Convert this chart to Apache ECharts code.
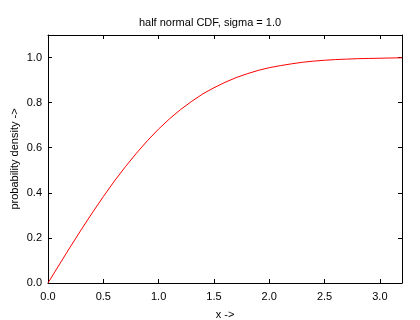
<!DOCTYPE html>
<html>
<head>
<meta charset="utf-8">
<script src="https://cdn.jsdelivr.net/npm/echarts@6/dist/echarts.min.js"></script>
<style>
  html, body { margin: 0; padding: 0; background: #fff; }
  #chart { width: 420px; height: 320px; }
</style>
</head>
<body>
<div id="chart"></div>
<script>
// values, one every 0.1 on x
var xValues = [0.0, 0.1, 0.2, 0.3, 0.4, 0.5, 0.6, 0.7, 0.8, 0.9, 1.0,
               1.1, 1.2, 1.3, 1.4, 1.5, 1.6, 1.7, 1.8, 1.9, 2.0,
               2.1, 2.2, 2.3, 2.4, 2.5, 2.6, 2.7, 2.8, 2.9, 3.0,
               3.1, 3.2];
var cdfValues = [0.000, 0.080, 0.159, 0.236, 0.311, 0.383, 0.452, 0.516, 0.576, 0.632, 0.683,
                 0.729, 0.770, 0.806, 0.839, 0.866, 0.890, 0.911, 0.928, 0.943, 0.955,
                 0.964, 0.972, 0.979, 0.984, 0.988, 0.991, 0.993, 0.995, 0.996, 0.997,
                 0.998, 0.999];
var xTicks = [0.0, 0.5, 1.0, 1.5, 2.0, 2.5, 3.0];
var yTicks = [0.0, 0.2, 0.4, 0.6, 0.8, 1.0];

var font = '"Liberation Sans", Arial, sans-serif';

var points = [];
for (var i = 0; i < xValues.length; i++) {
    points.push([xValues[i], cdfValues[i]]);
}

var frameLine = { show: true, onZero: false, lineStyle: { color: '#000', width: 1 } };
var inTick = { show: true, inside: true, length: 4, lineStyle: { color: '#000', width: 1 } };

var chart = echarts.init(document.getElementById('chart'), null, { renderer: 'canvas' });
chart.setOption({
    animation: false,
    backgroundColor: '#fff',
    title: {
        text: 'half normal CDF, sigma = 1.0',
        left: 'center',
        top: 12,
        textStyle: { fontFamily: font, fontSize: 11, fontWeight: 'normal', color: '#000' }
    },
    grid: { left: 48, right: 18, top: 35, bottom: 37, containLabel: false, outerBoundsMode: 'none' },
    xAxis: [{
        type: 'value',
        min: 0, max: 3.2, interval: 0.5,
        name: 'x ->',
        nameLocation: 'middle',
        nameGap: 26,
        nameMoveOverlap: false,
        nameTextStyle: { fontFamily: font, fontSize: 11, color: '#000' },
        axisLine: frameLine,
        axisTick: inTick,
        splitLine: { show: false },
        axisLabel: {
            fontFamily: font, fontSize: 11, color: '#000', margin: 8,
            showMaxLabel: false,
            formatter: function (v) { return xTicks.indexOf(v) >= 0 ? v.toFixed(1) : ''; }
        }
    }, {
        type: 'value',
        position: 'top',
        min: 0, max: 3.2, interval: 0.5,
        axisLine: frameLine,
        axisTick: inTick,
        splitLine: { show: false },
        axisLabel: { show: false }
    }],
    yAxis: [{
        type: 'value',
        min: 0, max: 1.1, interval: 0.2,
        name: 'probability density ->',
        nameLocation: 'middle',
        nameGap: 28,
        nameMoveOverlap: false,
        nameTextStyle: { fontFamily: font, fontSize: 11, color: '#000' },
        axisLine: frameLine,
        axisTick: inTick,
        splitLine: { show: false },
        axisLabel: {
            fontFamily: font, fontSize: 11, color: '#000', margin: 6,
            showMaxLabel: false,
            formatter: function (v) { return yTicks.indexOf(Math.round(v * 10) / 10) >= 0 ? v.toFixed(1) : ''; }
        }
    }, {
        type: 'value',
        position: 'right',
        min: 0, max: 1.1, interval: 0.2,
        axisLine: frameLine,
        axisTick: inTick,
        splitLine: { show: false },
        axisLabel: { show: false }
    }],
    series: [{
        type: 'line',
        data: points,
        showSymbol: false,
        smooth: false,
        lineStyle: { color: '#ff0000', width: 1 },
        itemStyle: { color: '#ff0000' }
    }]
});
</script>
</body>
</html>
